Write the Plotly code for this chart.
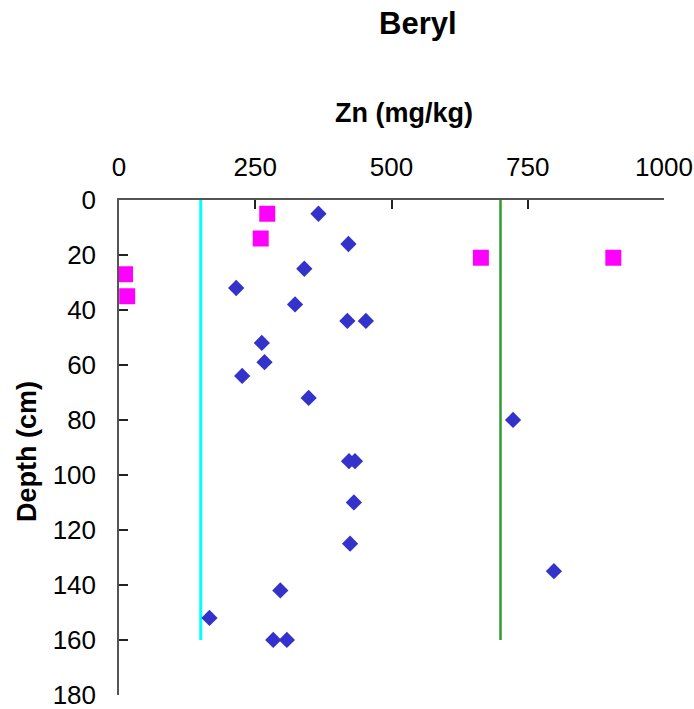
import plotly.graph_objects as go

# Data
series1_zn = [366, 421, 340, 215, 323, 419, 453, 262, 267, 226, 348, 422, 433, 431, 723, 424, 296, 166, 283, 308, 798]
series1_depth = [5, 16, 25, 32, 38, 44, 44, 52, 59, 64, 72, 95, 95, 110, 80, 125, 142, 152, 160, 160, 135]

series2_zn = [272, 260, 11, 15, 664, 907]
series2_depth = [5, 14, 27, 35, 21, 21]

low_guide_x = [150, 150]
low_guide_depth = [0, 160]
high_guide_x = [700, 700]
high_guide_depth = [0, 160]

x_ticks = [0, 250, 500, 750, 1000]
y_ticks = [0, 20, 40, 60, 80, 100, 120, 140, 160, 180]

FONT = "Liberation Sans, Arial, sans-serif"

fig = go.Figure()
fig.add_trace(go.Scatter(x=low_guide_x, y=low_guide_depth, mode="lines",
                         line=dict(color="#00FFFF", width=3), showlegend=False, hoverinfo="skip"))
fig.add_trace(go.Scatter(x=high_guide_x, y=high_guide_depth, mode="lines",
                         line=dict(color="#339933", width=2.5), showlegend=False, hoverinfo="skip"))
fig.add_trace(go.Scatter(x=series1_zn, y=series1_depth, mode="markers",
                         marker=dict(symbol="diamond", size=12.5, color="#3333CC", line=dict(width=0)),
                         showlegend=False))
fig.add_trace(go.Scatter(x=series2_zn, y=series2_depth, mode="markers",
                         marker=dict(symbol="square", size=16, color="#FF00FF", line=dict(width=0)),
                         showlegend=False))

fig.update_layout(
    width=694, height=709,
    margin=dict(l=119, r=30, t=200, b=14, pad=0),
    paper_bgcolor="white", plot_bgcolor="white",
    font=dict(family=FONT, size=26, color="black"),
    showlegend=False,
    xaxis=dict(side="top", range=[0, 1000], tickvals=x_ticks, ticks="inside", ticklen=9,
               tickwidth=1.5, tickcolor="#222222", showline=True, linecolor="#555555", linewidth=1.5,
               showgrid=False, zeroline=False, ticklabelstandoff=12, automargin=False,
               ticklabeloverflow="allow",
               tickfont=dict(size=26, family=FONT)),
    yaxis=dict(range=[180.01, 0], tickvals=y_ticks, ticks="inside", ticklen=9,
               tickwidth=1.5, tickcolor="#222222", showline=True, linecolor="#555555", linewidth=1.5,
               showgrid=False, zeroline=False, ticklabelstandoff=16, automargin=False,
               ticklabeloverflow="allow",
               tickfont=dict(size=26, family=FONT)),
    annotations=[
        dict(text="<b>Beryl</b>", x=418, y=24, showarrow=False,
             font=dict(size=31, family=FONT)),
        dict(text="<b>Zn (mg/kg)</b>", x=404, y=113, showarrow=False,
             font=dict(size=27, family=FONT)),
        dict(text="<b>Depth (cm)</b>", x=27, y=452, showarrow=False, textangle=-90,
             font=dict(size=27, family=FONT)),
    ],
)

# convert pixel positions of annotations to paper coordinates
W, H = 694, 709
l, r, t, b = 119, 30, 200, 14
pw, ph = W - l - r, H - t - b
new_ann = []
for a in fig.layout.annotations:
    px, py = a.x, a.y
    a.update(xref="paper", yref="paper",
             x=(px - l) / pw, y=1 - (py - t) / ph,
             xanchor="center", yanchor="middle")
    new_ann.append(a)
fig.layout.annotations = new_ann

fig.write_html("out.html", config={"displayModeBar": False})

# remove default page margin so the chart sits at the window's top-left corner
with open("out.html", "r", encoding="utf-8") as f:
    html = f.read()
html = html.replace("<body>", '<body style="margin:0;padding:0;overflow:hidden">', 1)
with open("out.html", "w", encoding="utf-8") as f:
    f.write(html)
